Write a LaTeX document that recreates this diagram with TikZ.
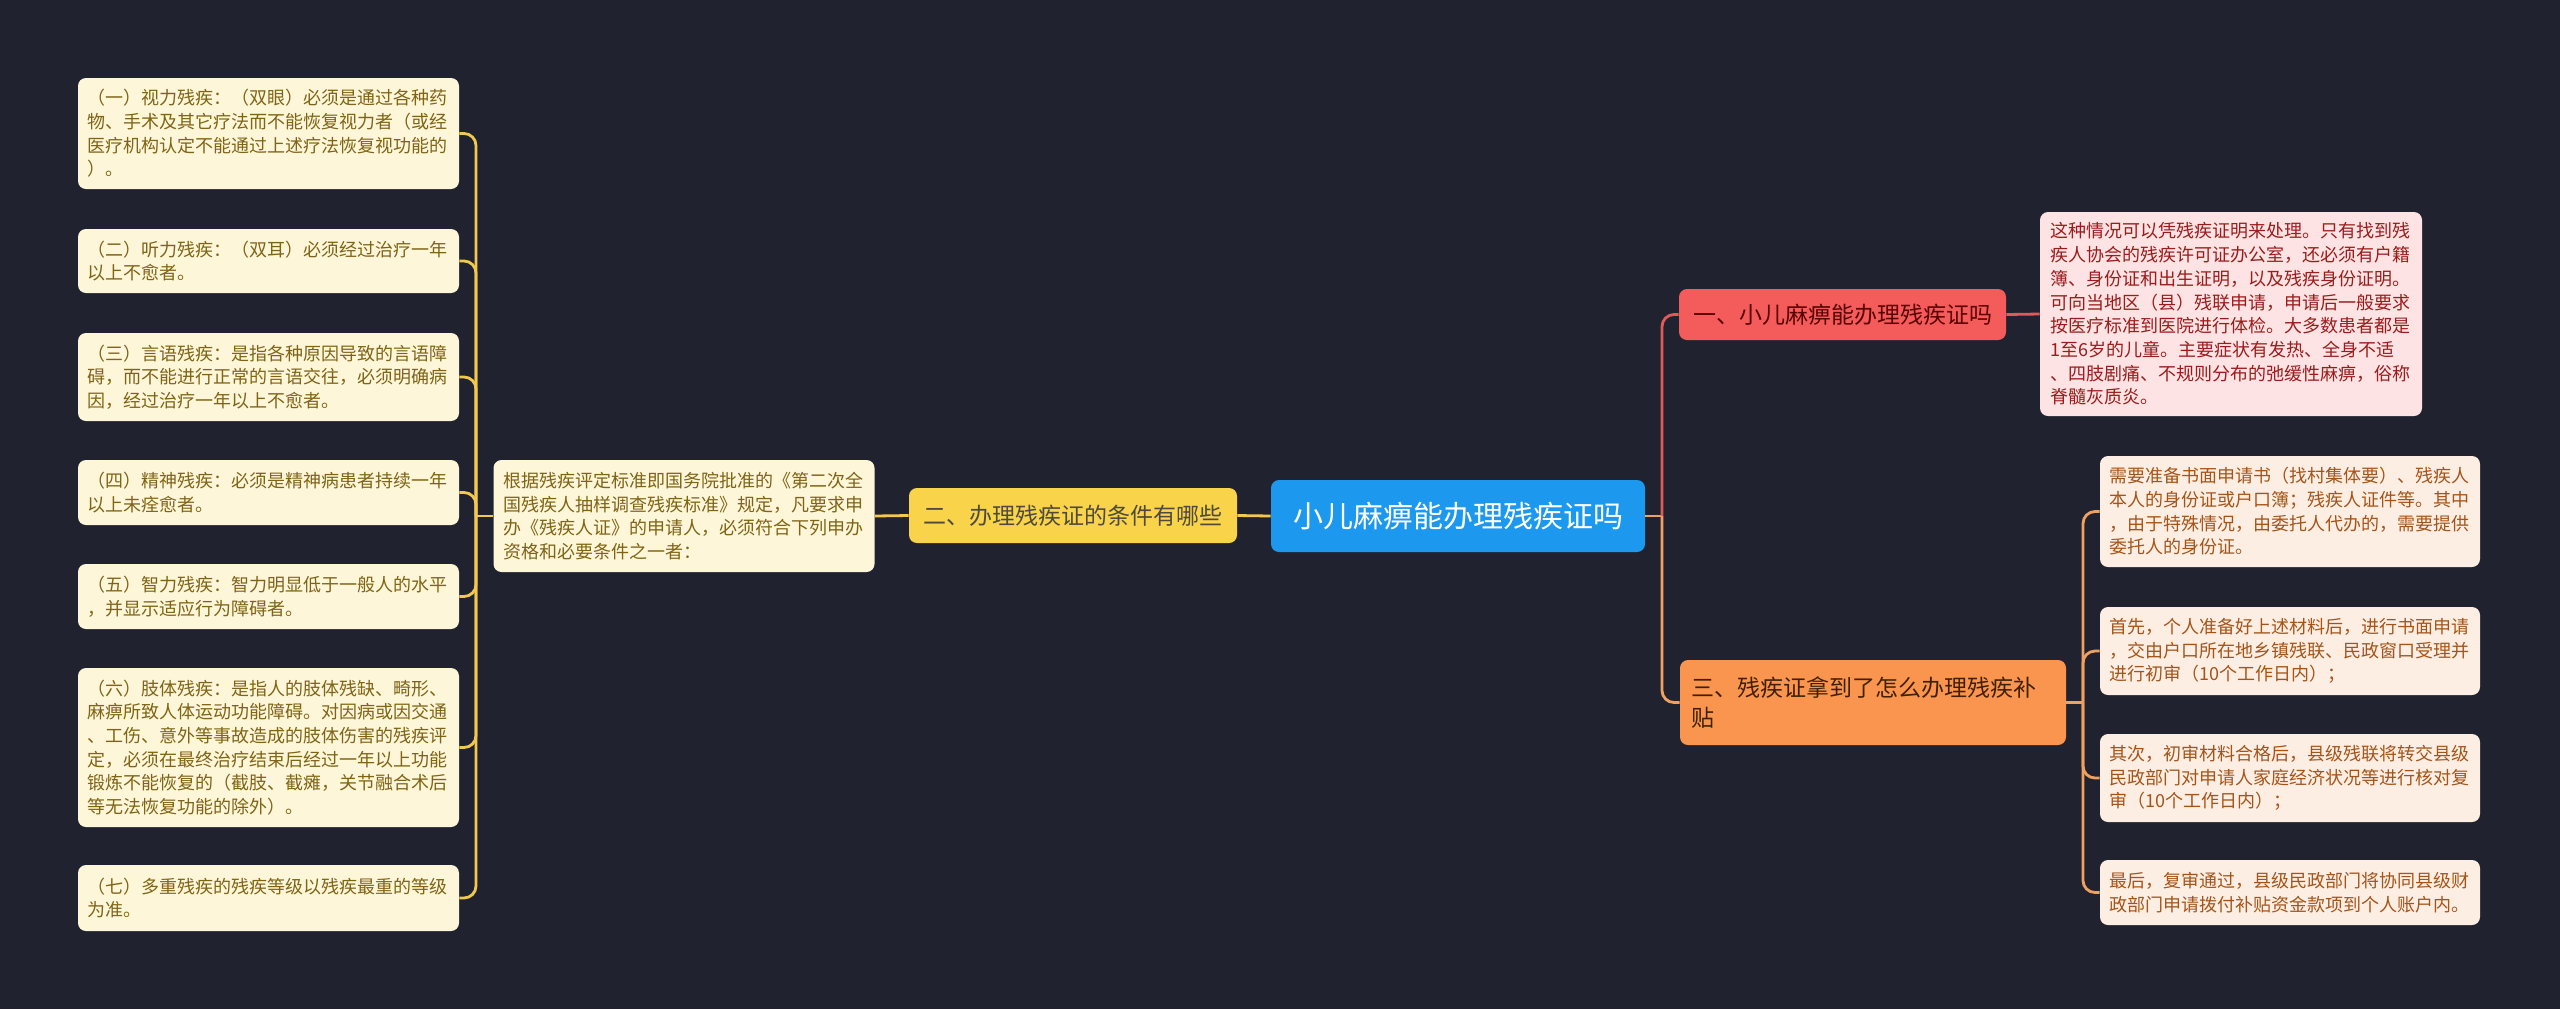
\documentclass[tikz,border=0pt]{standalone}
\usepackage{fontspec}
\setmainfont{Noto Sans CJK SC}
\usepackage{tikz}
\hyphenpenalty=10000
\exhyphenpenalty=10000

\definecolor{bg}{HTML}{20232F}
\definecolor{rootfill}{HTML}{1C98EE}
\definecolor{yfill}{HTML}{F9D44A}
\definecolor{yleaf}{HTML}{FDF6D9}
\definecolor{ytext}{HTML}{7F6415}
\definecolor{yline}{HTML}{F2C94C}
\definecolor{rfill}{HTML}{F45C5C}
\definecolor{rleaf}{HTML}{FDE3E3}
\definecolor{rtext}{HTML}{9B1C1C}
\definecolor{rline}{HTML}{E05A5A}
\definecolor{ofill}{HTML}{FA9550}
\definecolor{oleaf}{HTML}{FDEEE4}
\definecolor{otext}{HTML}{A55418}
\definecolor{oline}{HTML}{F0A060}

\tikzset{
  box/.style={rounded corners=4pt, inner sep=0pt},
  leaf/.style={box, align=left, text width=181pt, inner xsep=4.75pt,
    font=\fontsize{9}{11.85}\selectfont},
  topic/.style={box, align=center, font=\fontsize{11.5}{15}\selectfont},
  yleafbox/.style={leaf, fill=yleaf, text=ytext},
  rleafbox/.style={leaf, fill=rleaf, text=rtext},
  oleafbox/.style={leaf, fill=oleaf, text=otext},
  link/.style={line width=1.4pt, rounded corners=6pt},
}

\begin{document}
\begin{tikzpicture}[x=0.5pt, y=-0.5pt]
  \fill[bg] (0,0) rectangle (2560,1009);
  \useasboundingbox (0,0) rectangle (2560,1009);

  % main topic and branches
  \node[box, fill=rootfill, text=white, minimum width=187pt, minimum height=36pt,
    font=\fontsize{15}{18}\selectfont] (root) at (1458,516) {小儿麻痹能办理残疾证吗};
  \node[topic, fill=yfill, text=black!80!yellow, minimum width=164pt, minimum height=27.5pt]
    (cond) at (1073,515.5) {二、办理残疾证的条件有哪些};
  \node[topic, fill=rfill, text=black!65!red, minimum width=163.5pt, minimum height=25.5pt]
    (polio) at (1842.5,314.5) {一、小儿麻痹能办理残疾证吗};
  \node[topic, fill=ofill, text=black!75!orange, align=left, text width=182pt, inner xsep=5.5pt,
    minimum height=42.5pt] (subsidy) at (1873,702.5)
    {三、残疾证拿到了怎么办理残疾补\\贴};

  \node[yleafbox, minimum height=56pt] (rule) at (684,516)
    {根据残疾评定标准即国务院批准的《第二次全\\国残疾人抽样调查残疾标准》规定，凡要求申\\办《残疾人证》的申请人，必须符合下列申办\\资格和必要条件之一者：};

  % left leaves
  \node[yleafbox, minimum height=55.5pt] (l1) at (268.5,133.5)
    {（一）视力残疾：（双眼）必须是通过各种药\\物、手术及其它疗法而不能恢复视力者（或经\\医疗机构认定不能通过上述疗法恢复视功能的\\）。};
  \node[yleafbox, minimum height=32pt] (l2) at (268.5,261)
    {（二）听力残疾：（双耳）必须经过治疗一年\\以上不愈者。};
  \node[yleafbox, minimum height=44pt] (l3) at (268.5,377)
    {（三）言语残疾：是指各种原因导致的言语障\\碍，而不能进行正常的言语交往，必须明确病\\因，经过治疗一年以上不愈者。};
  \node[yleafbox, minimum height=32.5pt] (l4) at (268.5,492.5)
    {（四）精神残疾：必须是精神病患者持续一年\\以上未痊愈者。};
  \node[yleafbox, minimum height=32.5pt] (l5) at (268.5,596.5)
    {（五）智力残疾：智力明显低于一般人的水平\\，并显示适应行为障碍者。};
  \node[yleafbox, minimum height=79.5pt] (l6) at (268.5,747.5)
    {（六）肢体残疾：是指人的肢体残缺、畸形、\\麻痹所致人体运动功能障碍。对因病或因交通\\、工伤、意外等事故造成的肢体伤害的残疾评\\定，必须在最终治疗结束后经过一年以上功能\\锻炼不能恢复的（截肢、截瘫，关节融合术后\\等无法恢复功能的除外）。};
  \node[yleafbox, minimum height=33pt] (l7) at (268.5,898)
    {（七）多重残疾的残疾等级以残疾最重的等级\\为准。};

  % right leaves
  \node[rleafbox, inner xsep=5pt, minimum height=102pt] (r1) at (2231,314)
    {这种情况可以凭残疾证明来处理。只有找到残\\疾人协会的残疾许可证办公室，还必须有户籍\\簿、身份证和出生证明，以及残疾身份证明。\\可向当地区（县）残联申请，申请后一般要求\\按医疗标准到医院进行体检。大多数患者都是\\1至6岁的儿童。主要症状有发热、全身不适\\、四肢剧痛、不规则分布的弛缓性麻痹，俗称\\脊髓灰质炎。};
  \node[oleafbox, inner xsep=4.5pt, minimum height=55.5pt] (o1) at (2290,511.5)
    {需要准备书面申请书（找村集体要）、残疾人\\本人的身份证或户口簿；残疾人证件等。其中\\，由于特殊情况，由委托人代办的，需要提供\\委托人的身份证。};
  \node[oleafbox, inner xsep=4.5pt, minimum height=44pt] (o2) at (2290,651)
    {首先，个人准备好上述材料后，进行书面申请\\，交由户口所在地乡镇残联、民政窗口受理并\\进行初审（10个工作日内）；};
  \node[oleafbox, inner xsep=4.5pt, minimum height=44pt] (o3) at (2290,778)
    {其次，初审材料合格后，县级残联将转交县级\\民政部门对申请人家庭经济状况等进行核对复\\审（10个工作日内）；};
  \node[oleafbox, inner xsep=4.5pt, minimum height=32.5pt] (o4) at (2290,892.5)
    {最后，复审通过，县级民政部门将协同县级财\\政部门申请拨付补贴资金款项到个人账户内。};

  \coordinate (jl) at (476,516);
  \coordinate (jr) at (1662,516);
  \coordinate (jo) at (2083,702.5);

  % connectors
  \draw[link, yline] (root.west) -- (cond.east);
  \draw[link, yline] (cond.west) -- (rule.east);
  \draw[link, yline] (rule.west) -- (jl);
  \draw[link, yline] (jl) |- (l1.east);
  \draw[link, yline] (jl) |- (l2.east);
  \draw[link, yline] (jl) |- (l3.east);
  \draw[link, yline] (jl) |- (l4.east);
  \draw[link, yline] (jl) |- (l5.east);
  \draw[link, yline] (jl) |- (l6.east);
  \draw[link, yline] (jl) |- (l7.east);

  \draw[link, oline] (root.east) -- (jr);
  \draw[link, rline] (jr) |- (polio.west);
  \draw[link, oline] (jr) |- (subsidy.west);
  \draw[link, rline] (polio.east) -- (r1.west);

  \draw[link, oline] (subsidy.east) -- (jo);
  \draw[link, oline] (jo) |- (o1.west);
  \draw[link, oline] (jo) |- (o2.west);
  \draw[link, oline] (jo) |- (o3.west);
  \draw[link, oline] (jo) |- (o4.west);
\end{tikzpicture}
\end{document}
